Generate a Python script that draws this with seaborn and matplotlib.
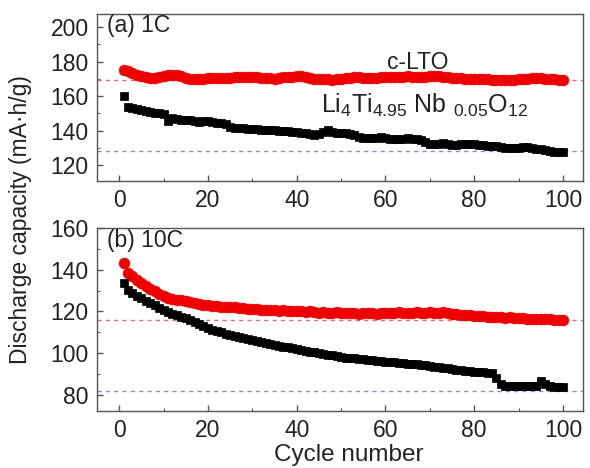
import numpy as np
import pandas as pd
import matplotlib
matplotlib.use("Agg")
import matplotlib.pyplot as plt
from matplotlib.ticker import MultipleLocator
import seaborn as sns

cycles = list(range(1, 101))

# (a) 1C
nb_1c = [160.3, 154, 153, 152.5, 152, 151.5, 151, 150.5, 150, 149.5,
         145.5, 147.5, 147, 146.5, 146.5, 146, 145.5, 145, 145.5, 145.5,
         145, 144.5, 144.5, 144, 142, 141.5, 141.5, 141.5, 141, 141,
         141, 140.5, 140.5, 140.5, 140.5, 140, 140, 140, 139.5, 139.5,
         139, 138.5, 138, 137.5, 138, 139.5, 140.5, 139.5, 139, 138.5,
         138.5, 138, 137.5, 136.5, 136, 136, 136, 136, 136.5, 136,
         135.5, 135.5, 135.5, 135.5, 136, 135.5, 135, 134.5, 133.5, 132.5,
         132.5, 132.5, 133, 132.5, 132, 132, 132.5, 132.5, 132.5, 132.5,
         132, 132, 131.5, 131.5, 131, 130.5, 130, 130, 130, 130,
         130.5, 130.5, 130, 129.5, 129.5, 129, 128.5, 128, 128, 128]
lto_1c = [175.3, 174.5, 173.5, 172.5, 171.5, 171, 170.5, 170.5, 171, 171.5,
          172, 172.2, 172, 171.5, 170.5, 170, 170, 170, 170.2, 170.3,
          170.5, 170.5, 170.5, 170.6, 170.7, 170.8, 171, 171, 171, 171,
          170.8, 170.5, 170.5, 170.3, 170, 170.5, 171, 171.3, 171.3, 171.5,
          171.5, 171.2, 170.5, 170, 170, 170, 169.8, 169.5, 169.8, 170,
          170.3, 170.5, 170.8, 171, 170.5, 170.3, 170.3, 170.5, 170.8, 171,
          171, 171, 171.2, 171.3, 171.5, 171.2, 171, 170.8, 171, 171.5,
          171.8, 171.5, 171, 170.8, 170.5, 170.5, 170.3, 170.2, 170, 170,
          170, 169.8, 169.7, 169.5, 169.3, 169.2, 169.2, 169.3, 169.5, 169.7,
          170, 170.2, 170.5, 170.3, 170.3, 170, 170, 169.7, 169.5, 169.3]

# (b) 10C
nb_10c = [133.8, 130.3, 129, 127.6, 126.3, 125.2, 124.1, 123, 121.8, 120.7,
          119.8, 119, 118.2, 117.5, 116.7, 115.8, 114.9, 114, 113, 112,
          111.3, 110.7, 110, 109.4, 108.8, 108.3, 107.8, 107.3, 106.8, 106.3,
          105.8, 105.4, 104.9, 104.5, 104, 103.6, 103.2, 102.8, 102.4, 102,
          101.6, 101.2, 100.8, 100.5, 100.1, 99.7, 99.3, 98.9, 98.5, 98.1,
          97.9, 97.7, 97.5, 97.3, 97.1, 96.9, 96.7, 96.5, 96.3, 96,
          95.8, 95.6, 95.4, 95.2, 95, 94.8, 94.6, 94.4, 94.2, 94,
          93.6, 93.3, 93, 92.7, 92.4, 92.1, 91.9, 91.6, 91.4, 91.2,
          91, 90.8, 90.6, 90.4, 88, 85, 84.5, 84.3, 84.3, 84.2,
          84.2, 84.1, 84.3, 84.5, 86.8, 85.3, 84.3, 84, 84, 84]
lto_10c = [143.4, 138.6, 137, 135.3, 133.6, 132.2, 131, 129.8, 128.5, 127.5,
           126.5, 125.8, 125.5, 125.3, 125, 124.5, 124, 123.5, 123.3, 123,
           122.8, 122.5, 122.3, 122.2, 122, 122, 121.8, 121.5, 121.3, 121.2,
           121, 120.8, 120.7, 120.5, 120.5, 120.3, 120.5, 120.2, 120, 120.2,
           120, 119.8, 120, 119.7, 119.5, 119.8, 119.5, 119.3, 119.6, 119.4,
           119.2, 119.5, 119.3, 119, 119.3, 119.5, 119.2, 119, 119.3, 119.2,
           119.5, 119.3, 119.7, 119.5, 119.2, 119.5, 119.8, 119.3, 119.5, 119.6,
           119.2, 119.4, 119.8, 119.3, 118.8, 118.7, 118.5, 118.3, 118.2, 118,
           117.8, 117.8, 117.5, 117.3, 117.5, 117.2, 117, 117.3, 116.9, 116.8,
           117, 116.6, 116.5, 116.4, 116.3, 116.2, 116.2, 116.1, 116, 116]

ref_1c = {"lto": 169.5, "nb": 128.5}
ref_10c = {"lto": 116, "nb": 82}

sns.set_style("ticks")
plt.rcParams['font.family'] = ['Liberation Sans', 'DejaVu Sans']
plt.rcParams['mathtext.default'] = 'regular'

fig = plt.figure(figsize=(5.9, 4.68), dpi=100)
ax1 = fig.add_axes([0.1644, 0.6132, 0.8236, 0.357])
ax2 = fig.add_axes([0.1644, 0.1218, 0.8236, 0.391])

red = "#ee0000"
txt = "#222222"
panels = [
    (ax1, nb_1c, lto_1c, ref_1c, (111, 207.5), [120, 140, 160, 180, 200], "(a) 1C"),
    (ax2, nb_10c, lto_10c, ref_10c, (72.3, 160), [80, 100, 120, 140, 160], "(b) 10C"),
]

for ax, nb, lto, ref, ylim, yt, tag in panels:
    df = pd.DataFrame({"Cycle": cycles, "nb": nb, "lto": lto})
    ax.axhline(ref["lto"], color="#e07070", ls=(0, (3, 3)), lw=1, zorder=1)
    ax.axhline(ref["nb"], color="#8888cc", ls=(0, (3, 3)), lw=1, zorder=1)
    sns.scatterplot(data=df, x="Cycle", y="lto", ax=ax, marker="o", s=60,
                    color=red, edgecolor=red, linewidth=0.5, zorder=3)
    sns.scatterplot(data=df, x="Cycle", y="nb", ax=ax, marker="s", s=38,
                    color="black", edgecolor="black", linewidth=0.5, zorder=4)
    ax.set_xlim(-5, 104.5)
    ax.set_ylim(*ylim)
    ax.set_xticks([0, 20, 40, 60, 80, 100])
    ax.set_yticks(yt)
    ax.xaxis.set_minor_locator(MultipleLocator(10))
    ax.yaxis.set_minor_locator(MultipleLocator(10))
    ax.tick_params(which="both", direction="in", color="#555555",
                   labelsize=16.5, labelcolor=txt)
    ax.tick_params(which="major", length=4, width=1, pad=6)
    ax.tick_params(which="minor", length=2, width=0.8)
    for sp in ax.spines.values():
        sp.set_color("#555555")
        sp.set_linewidth(1)
    ax.set_xlabel("")
    ax.set_ylabel("")
    ax.text(0.02, 0.93, tag, transform=ax.transAxes, fontsize=16.5,
            color=txt, va="center", ha="left")

ax1.text(0.66, 0.71, "c-LTO", transform=ax1.transAxes, fontsize=16.5,
         color=txt, ha="center", va="center")
ax1.text(0.46, 0.45, r"Li$_4$Ti$_{4.95}$ Nb $_{0.05}$O$_{12}$",
         transform=ax1.transAxes, fontsize=18, color=txt,
         ha="left", va="center")

fig.text(0.035, 0.53, "Discharge capacity (mA\u00b7h/g)", rotation=90,
         fontsize=16.5, color=txt, ha="center", va="center")
fig.text(0.591, 0.028, "Cycle number", fontsize=17.5, color=txt,
         ha="center", va="center")

fig.savefig("out.png", dpi=100)
